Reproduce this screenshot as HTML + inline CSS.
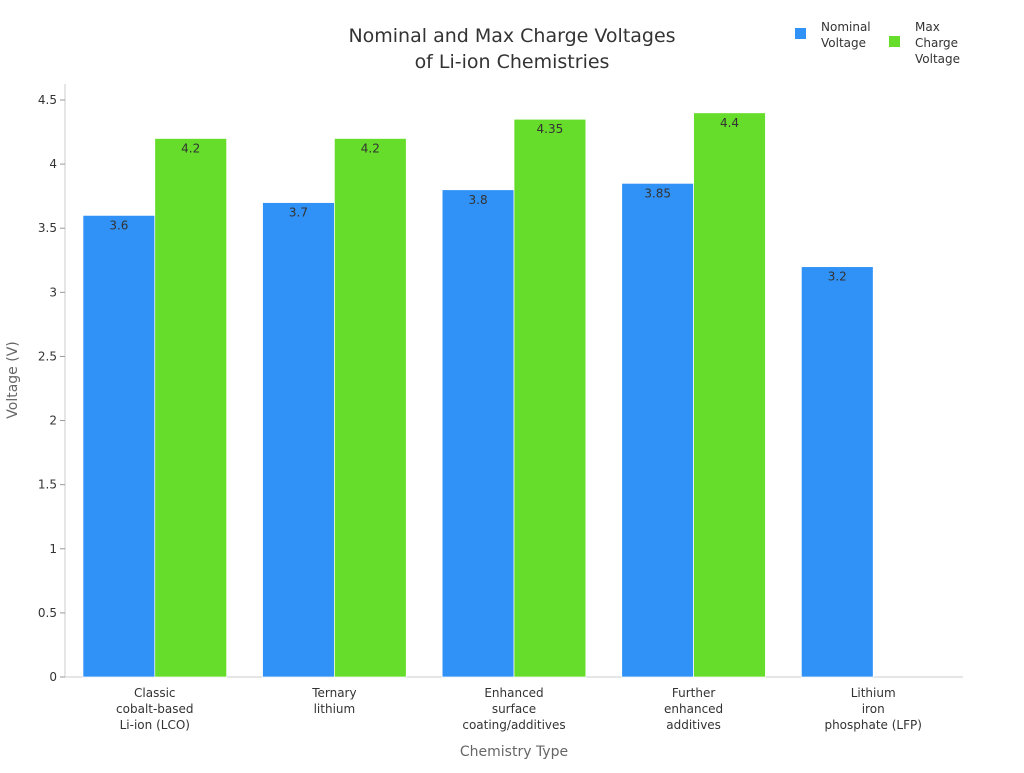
<!DOCTYPE html>
<html><head><meta charset="utf-8"><style>
body{margin:0;background:#fff;font-family:"Liberation Sans","DejaVu Sans",sans-serif;}
svg text{font-family:"DejaVu Sans","Liberation Sans",sans-serif;}
</style></head><body>
<svg id="chart" width="1024" height="768" viewBox="0 0 1024 768">
<text x="512" y="42" text-anchor="middle" font-size="19" fill="#333">Nominal and Max Charge Voltages</text>
<text x="512" y="68" text-anchor="middle" font-size="19" fill="#333">of Li-ion Chemistries</text>
<g>
<rect x="795" y="28" width="11" height="11" fill="#3092f7"/>
<text x="821" y="31" font-size="12" fill="#333"><tspan x="821">Nominal</tspan><tspan x="821" dy="16">Voltage</tspan></text>
<rect x="889" y="36" width="11" height="11" fill="#66dd2a"/>
<text x="915" y="31" font-size="12" fill="#333"><tspan x="915">Max</tspan><tspan x="915" dy="16">Charge</tspan><tspan x="915" dy="16">Voltage</tspan></text>
</g>
<g id="plot"></g>
<text x="514" y="756" text-anchor="middle" font-size="14" fill="#666">Chemistry Type</text>
<text transform="translate(17,380) rotate(-90)" text-anchor="middle" font-size="14" fill="#666">Voltage (V)</text>
</svg>
<script>
const categories=[["Classic","cobalt-based","Li-ion (LCO)"],["Ternary","lithium"],["Enhanced","surface","coating/additives"],["Further","enhanced","additives"],["Lithium","iron","phosphate (LFP)"]];
const nominal=[3.6,3.7,3.8,3.85,3.2];
const maxCharge=[4.2,4.2,4.35,4.4,null];
const yTicks=[0,0.5,1,1.5,2,2.5,3,3.5,4,4.5];
const NS="http://www.w3.org/2000/svg";
const g=document.getElementById("plot");
const x0=65,x1=963,yBase=677,yTop=100,yMaxV=4.5;
const band=(x1-x0)/categories.length;
const y=v=>yBase-(v/yMaxV)*(yBase-yTop);
const xc=i=>x0+band*(i+0.5);
function mk(t,a){const e=document.createElementNS(NS,t);for(const k in a)e.setAttribute(k,a[k]);g.appendChild(e);return e;}
let e;
e=mk("line",{x1:x0,y1:84,x2:x0,y2:yBase,stroke:"#ccc"});


e=mk("line",{x1:x0,y1:yBase,x2:x1,y2:yBase,stroke:"#ccc"});


yTicks.forEach(t=>{
 e=mk("line",{x1:x0-5,y1:y(t),x2:x0,y2:y(t),stroke:"#999"});
 
 
 e=mk("text",{x:x0-8,y:y(t)+4,"text-anchor":"end","font-size":12,fill:"#333"});
 e.textContent=String(t);
 
 
});
const bw=band*0.4;
function bar(i,v,off,col,name){
 if(v==null)return;
 e=mk("rect",{x:xc(i)+off,y:y(v),width:bw,height:yBase-y(v),fill:col,stroke:"#fff","stroke-width":0.7});
 
 
 e=mk("text",{x:xc(i)+off+bw/2,y:y(v)+14,"text-anchor":"middle","font-size":12,fill:"#333"});
 e.textContent=String(v);
 
 
}
categories.forEach((c,i)=>{
 bar(i,nominal[i],-bw,"#3092f7","bar-nominal-"+i);
 bar(i,maxCharge[i],0,"#66dd2a","bar-max-"+i);
 e=mk("text",{x:xc(i),y:697,"text-anchor":"middle","font-size":12,fill:"#333"});
 
 
 c.forEach((l,j)=>{const s=document.createElementNS(NS,"tspan");s.setAttribute("x",xc(i));s.setAttribute("dy",j?16:0);s.textContent=l;e.appendChild(s);});
});
</script>
</body></html>
